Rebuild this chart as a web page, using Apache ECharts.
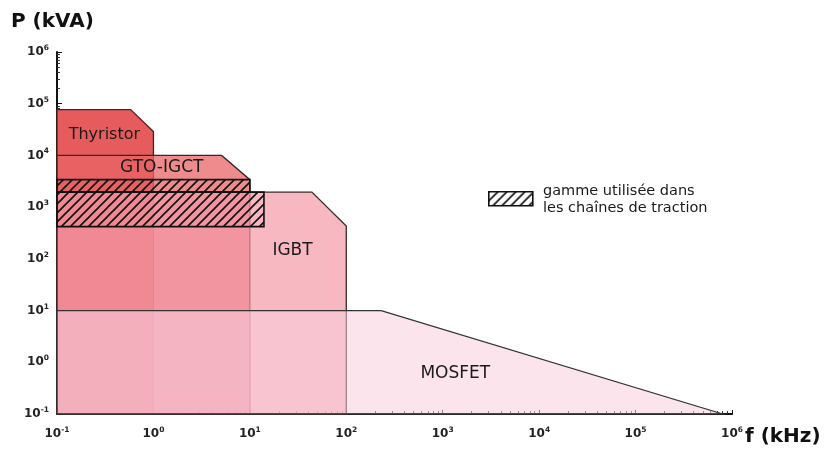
<!DOCTYPE html>
<html><head><meta charset="utf-8">
<script src="https://cdn.jsdelivr.net/npm/echarts@6/dist/echarts.min.js"></script>
<style>html,body{margin:0;padding:0;background:#fff}#c{width:827px;height:449px}</style>
</head><body><div id="c"></div>
<script>
// ---- data (frequency kHz, power kVA) ----
const regionNames = ['Thyristor', 'GTO-IGCT', 'IGBT', 'MOSFET'];
const thyristor = [[0.1, 0.1], [0.1, 7.7e4], [0.58, 7.7e4], [1, 2.9e4], [1, 0.1]];
const gtoIgct   = [[0.1, 0.1], [0.1, 1e4], [5.1, 1e4], [10, 3400], [10, 0.1]];
const igbt      = [[0.1, 0.1], [0.1, 1950], [44, 1950], [100, 430], [100, 0.1]];
const mosfet    = [[0.1, 0.1], [0.1, 10], [230, 10], [8e5, 0.1]];
const labelAnchors = [[0.31, 2.5e4], [1.22, 5.8e3], [27.7, 144], [1350, 0.6]];
// traction range (hatched): [fmin, fmax, Pmin, Pmax]
const tractionRanges = [[0.1, 10, 1950, 3400], [0.1, 14, 420, 1950]];
const xTickExponents = [-1, 0, 1, 2, 3, 4, 5, 6];
const yTickExponents = [-1, 0, 1, 2, 3, 4, 5, 6];
const legendText = 'gamme utilisée dans\nles chaînes de traction';

const polygons = [thyristor, gtoIgct, igbt, mosfet];
const fills = ['rgb(230,92,92)', 'rgba(232,100,103,0.75)', 'rgba(244,154,168,0.7)', 'rgba(248,206,220,0.55)'];
const strokes = ['#4a2424', '#3a2626', '#3a2a2a', '#333'];
const labelSizes = [16, 17, 17, 17];

function hatch() {
  const c = document.createElement('canvas');
  c.width = 9; c.height = 9;
  const g = c.getContext('2d');
  g.strokeStyle = '#111'; g.lineWidth = 1.6;
  g.beginPath();
  g.moveTo(-1, 10); g.lineTo(10, -1);
  g.moveTo(-2, 2); g.lineTo(2, -2);
  g.moveTo(7, 11); g.lineTo(11, 7);
  g.stroke();
  return c;
}
const hatchCanvas = hatch();
const FONT = '"DejaVu Sans", sans-serif';

const tickLabel = {
  formatter: v => {
    const e = Math.round(Math.log10(v));
    return '{b|10}{s|' + e + '}';
  },
  rich: {
    b: { fontSize: 12, fontWeight: 'bold', color: '#222', fontFamily: FONT },
    s: { fontSize: 7.5, fontWeight: 'bold', color: '#222', fontFamily: FONT, padding: [0, 0, 8, 0] }
  }
};

const chart = echarts.init(document.getElementById('c'), null, { renderer: 'canvas' });
chart.setOption({
  backgroundColor: '#fff',
  animation: false,
  grid: { left: 57, right: 95, top: 52, bottom: 35 },
  xAxis: {
    type: 'log', logBase: 10,
    min: Math.pow(10, xTickExponents[0]), max: Math.pow(10, xTickExponents[xTickExponents.length - 1]),
    splitNumber: 7,
    axisLine: { lineStyle: { color: '#111', width: 2 } },
    axisTick: { show: true, inside: true, length: 4, lineStyle: { color: '#111' } },
    minorTick: { show: true, splitNumber: 9, length: 3, lineStyle: { color: '#333' } },
    splitLine: { show: false },
    axisLabel: Object.assign({ margin: 12 }, tickLabel)
  },
  yAxis: {
    type: 'log', logBase: 10,
    min: Math.pow(10, yTickExponents[0]), max: Math.pow(10, yTickExponents[yTickExponents.length - 1]),
    splitNumber: 7,
    axisLine: { lineStyle: { color: '#111', width: 2 } },
    axisTick: { show: true, inside: true, length: 5, lineStyle: { color: '#111' } },
    minorTick: { show: true, splitNumber: 9, length: 3, lineStyle: { color: '#333' } },
    splitLine: { show: false },
    axisLabel: Object.assign({ margin: 8 }, tickLabel)
  },
  series: [
    {
      type: 'custom',
      coordinateSystem: 'cartesian2d',
      clip: false,
      data: labelAnchors,
      renderItem: function (params, api) {
        const i = params.dataIndex;
        const pts = polygons[i].map(p => api.coord(p));
        const lp = api.coord([api.value(0), api.value(1)]);
        return {
          type: 'group',
          children: [
            { type: 'polygon', z2: i, shape: { points: pts },
              style: { fill: fills[i], stroke: strokes[i], lineWidth: 1.3 } },
            { type: 'text', z2: 100, x: lp[0], y: lp[1],
              style: { text: regionNames[i], fill: '#1a1a1a', fontSize: labelSizes[i],
                       fontFamily: FONT, align: 'center', verticalAlign: 'middle' } }
          ]
        };
      }
    },
    {
      type: 'custom',
      coordinateSystem: 'cartesian2d',
      z: 3,
      data: tractionRanges,
      renderItem: function (params, api) {
        const p0 = api.coord([api.value(0), api.value(3)]);
        const p1 = api.coord([api.value(1), api.value(2)]);
        return {
          type: 'rect',
          shape: { x: p0[0], y: p0[1], width: p1[0] - p0[0], height: p1[1] - p0[1] },
          style: { fill: { image: hatchCanvas, repeat: 'repeat' }, stroke: '#111', lineWidth: 1.6 }
        };
      }
    }
  ],
  graphic: [
    { type: 'text', left: 11, top: 12,
      style: { text: 'P (kVA)', fontSize: 20, fontWeight: 'bold', fontFamily: FONT, fill: '#111' } },
    { type: 'text', left: 745, top: 427,
      style: { text: 'f (kHz)', fontSize: 20, fontWeight: 'bold', fontFamily: FONT, fill: '#111' } },
    { type: 'rect', left: 488, top: 191,
      shape: { width: 44, height: 14 },
      style: { fill: { image: hatchCanvas, repeat: 'repeat' }, stroke: '#111', lineWidth: 1.6 } },
    { type: 'text', left: 543, top: 183,
      style: { text: legendText, fontSize: 14.5, lineHeight: 17, fontFamily: FONT, fill: '#1a1a1a' } }
  ]
});
</script>
</body></html>
